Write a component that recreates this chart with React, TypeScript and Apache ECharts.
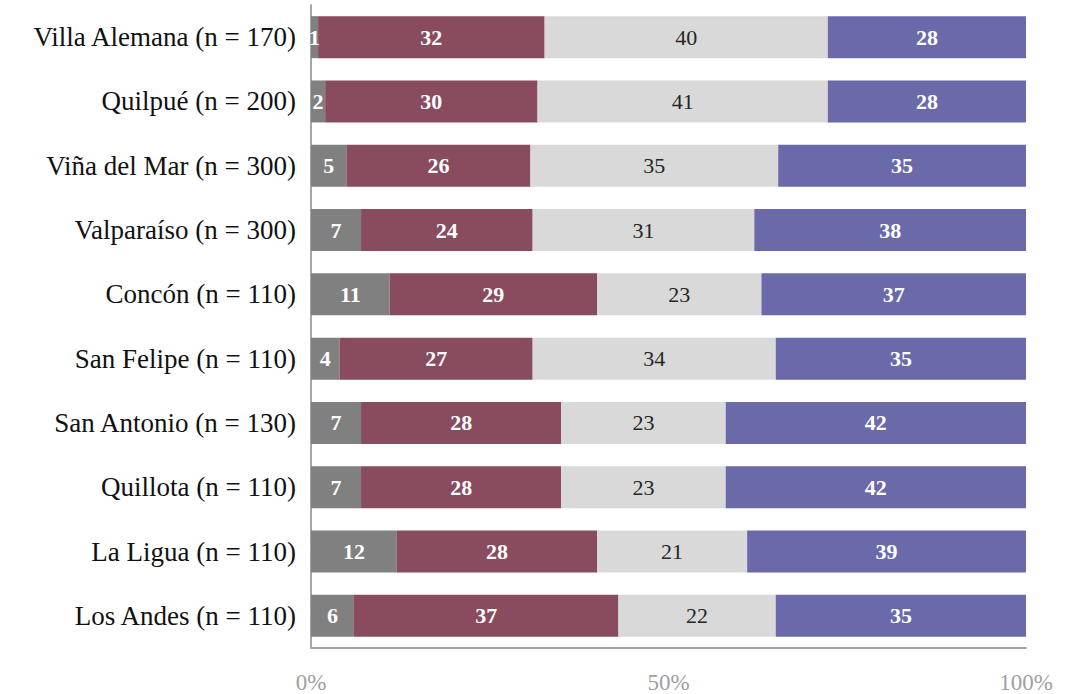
import React, { useEffect, useRef } from "react";
import * as echarts from "echarts";

const categories = [
  "Villa Alemana (n = 170)",
  "Quilpué (n = 200)",
  "Viña del Mar (n = 300)",
  "Valparaíso (n = 300)",
  "Concón (n = 110)",
  "San Felipe (n = 110)",
  "San Antonio (n = 130)",
  "Quillota (n = 110)",
  "La Ligua (n = 110)",
  "Los Andes (n = 110)",
];
const seriesA = [1, 2, 5, 7, 11, 4, 7, 7, 12, 6];
const seriesB = [32, 30, 26, 24, 29, 27, 28, 28, 28, 37];
const seriesC = [40, 41, 35, 31, 23, 34, 23, 23, 21, 22];
const seriesD = [28, 28, 35, 38, 37, 35, 42, 42, 39, 35];
const xTicks = [0, 50, 100];

const colors = ["#808080", "#894B5E", "#D9D9D9", "#6A69AA"];
const labelColors = ["#ffffff", "#ffffff", "#262626", "#ffffff"];
const labelBold = [true, true, false, true];
const FONT = "'Liberation Serif', 'DejaVu Serif', serif";

export default function App() {
  const ref = useRef<HTMLDivElement>(null);
  useEffect(() => {
    document.body.style.margin = "0";
    const chart = echarts.init(ref.current!, null, { renderer: "svg" });
    const all = [seriesA, seriesB, seriesC, seriesD];
    const sums = categories.map((_, i) => all.reduce((s, a) => s + a[i], 0));
    const series = all.map((arr, k) => ({
      type: "bar",
      stack: "total",
      barWidth: 42,
      data: arr.map((v, i) => ({ value: (v / sums[i]) * 100, raw: v })),
      itemStyle: { color: colors[k] },
      label: {
        show: true,
        position: "inside",
        color: labelColors[k],
        fontFamily: FONT,
        fontSize: 22,
        fontWeight: labelBold[k] ? "bold" : "normal",
        formatter: (p: any) => String(p.data.raw),
      },
    }));
    chart.setOption({
      animation: false,
      grid: { left: 311, right: 58, top: 5, bottom: 45, containLabel: false },
      xAxis: {
        type: "value",
        min: xTicks[0],
        max: xTicks[xTicks.length - 1],
        interval: xTicks[1] - xTicks[0],
        axisLine: { show: true, lineStyle: { color: "#a6a6a6", width: 2 } },
        axisTick: { show: false },
        splitLine: { show: false },
        axisLabel: {
          formatter: "{value}%",
          color: "#a0a0a0",
          fontFamily: FONT,
          fontSize: 23,
          margin: 23,
        },
      },
      yAxis: {
        type: "category",
        data: categories,
        inverse: true,
        axisLine: { show: true, lineStyle: { color: "#a6a6a6", width: 2 } },
        axisTick: { show: false },
        axisLabel: {
          color: "#111111",
          fontFamily: FONT,
          fontSize: 27,
          margin: 15,
        },
      },
      series,
    });
    return () => chart.dispose();
  }, []);
  return <div ref={ref} style={{ width: 1084, height: 694 }} />;
}
